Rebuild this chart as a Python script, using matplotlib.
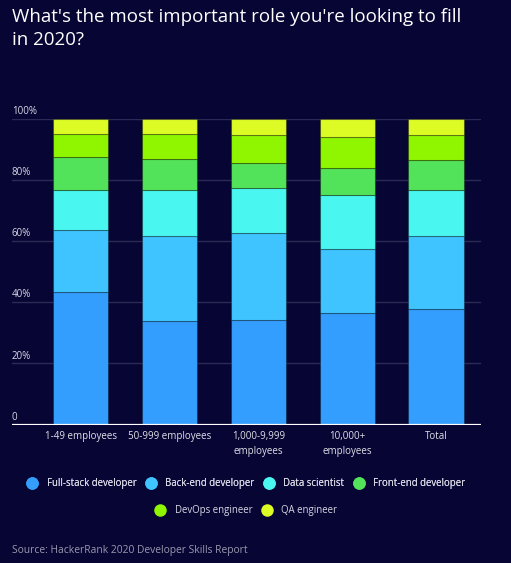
import matplotlib.pyplot as plt
import numpy as np
from matplotlib.lines import Line2D

plt.rcParams["font.family"] = ["Open Sans", "DejaVu Sans"]

BG = "#070533"

categories = ["1-49 employees", "50-999 employees", "1,000-9,999\nemployees",
              "10,000+\nemployees", "Total"]
roles = ["Full-stack developer", "Back-end developer", "Data scientist",
         "Front-end developer", "DevOps engineer", "QA engineer"]
colors = ["#349EFF", "#40C4FF", "#4AF6F0", "#53E35A", "#8FF600", "#DDFB25"]

full_stack = [43.3, 33.9, 34.1, 36.5, 37.7]
back_end = [20.3, 27.7, 28.5, 20.9, 23.9]
data_sci = [13.1, 15.1, 14.7, 17.8, 15.1]
front_end = [10.9, 10.1, 8.2, 8.7, 9.8]
devops = [7.4, 8.2, 9.2, 10.2, 8.2]
qa = [5.0, 5.0, 5.3, 5.9, 5.3]
series = [full_stack, back_end, data_sci, front_end, devops, qa]

yticks = [0, 20, 40, 60, 80, 100]
ytick_labels = ["0", "20%", "40%", "60%", "80%", "100%"]

W, H = 511, 563
fig = plt.figure(figsize=(W / 100, H / 100), dpi=100, facecolor=BG)
ax = fig.add_axes([12 / W, 1 - 424.5 / H, (481 - 12) / W, (424.5 - 119) / H])
ax.set_facecolor(BG)

x = np.arange(len(categories))
bottom = np.zeros(len(categories))
for vals, col in zip(series, colors):
    ax.bar(x, vals, bottom=bottom, width=0.62, color=col,
           edgecolor=(0, 0, 0, 0.3), linewidth=0.8, zorder=3)
    bottom += np.array(vals)

ax.set_xlim(-0.772, 4.506)
ax.set_ylim(0, 100)

for v, lab in zip(yticks, ytick_labels):
    if v > 0:
        ax.axhline(v, color="#2b2955", linewidth=1.0, zorder=1)
    ax.text(-0.772, v + 0.6, lab, color="#d8d8e6", fontsize=7,
            ha="left", va="bottom", zorder=4)
ax.axhline(0, color="white", linewidth=1.6, zorder=4)

for s in ax.spines.values():
    s.set_visible(False)
ax.set_yticks([])
ax.set_xticks(x)
ax.set_xticklabels(categories, color="#e0e0ea", fontsize=7, linespacing=1.5)
ax.tick_params(axis="x", length=0, pad=5)

fig.text(12 / W, 1 - 8 / H, "What's the most important role you're looking to fill\nin 2020?",
         color="white", fontsize=13.5, ha="left", va="top", linespacing=1.35)

def handles(idx):
    return [Line2D([], [], marker="o", linestyle="", markersize=9,
                   markerfacecolor=colors[i], markeredgewidth=0) for i in idx]

leg_kw = dict(loc="center", frameon=False, fontsize=6.9, labelcolor="#d8d8e6",
              handletextpad=1.0, columnspacing=1.0, handlelength=1.0)
leg1 = fig.legend(handles([0, 1, 2, 3]), roles[:4],
                  bbox_to_anchor=(0.482, 1 - 483.5 / H), ncol=4, **leg_kw)
fig.add_artist(leg1)
fig.legend(handles([4, 5]), roles[4:],
           bbox_to_anchor=(0.482, 1 - 510.5 / H), ncol=2, **leg_kw)

fig.text(12 / W, 1 - 550 / H, "Source: HackerRank 2020 Developer Skills Report",
         color="#9a99b0", fontsize=7.4, ha="left", va="center")

fig.savefig("out.png", dpi=100, facecolor=BG)
